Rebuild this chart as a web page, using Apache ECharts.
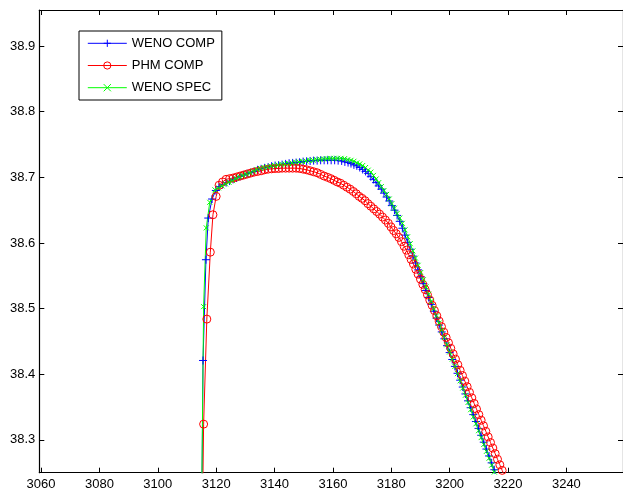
<!DOCTYPE html>
<html>
<head>
<meta charset="utf-8">
<script src="https://cdn.jsdelivr.net/npm/echarts@6/dist/echarts.min.js"></script>
<style>html,body{margin:0;padding:0;background:#fff;}#c{width:623px;height:494px;}</style>
</head>
<body>
<div id="c"></div>
<script>
// ---- data ----
const seriesNames = ['WENO COMP', 'PHM COMP', 'WENO SPEC'];
const xTickValues = [3060, 3080, 3100, 3120, 3140, 3160, 3180, 3200, 3220, 3240, 3260];
const xLabelValues = [3060, 3080, 3100, 3120, 3140, 3160, 3180, 3200, 3220, 3240];
const yTickValues = [38.3, 38.4, 38.5, 38.6, 38.7, 38.8, 38.9];

const wenoComp = [
[3115.0,38.15],[3115.5,38.421],[3116.5,38.5745],[3117.3,38.638],[3118.6,38.667],[3119.9,38.680],
[3121.0,38.686],[3122.2,38.689],[3123.4,38.692],[3124.6,38.6945],[3125.8,38.697],[3127.0,38.699],
[3128.2,38.7015],[3129.4,38.7035],[3130.6,38.7055],[3131.8,38.707],[3133.0,38.709],[3134.2,38.7115],
[3135.4,38.713],[3136.6,38.7145],[3137.8,38.7155],[3139.0,38.717],[3140.2,38.718],[3141.4,38.7185],
[3142.6,38.7195],[3143.8,38.7205],[3145.0,38.7215],[3146.2,38.722],[3147.4,38.7225],[3148.6,38.723],
[3149.8,38.724],[3151.0,38.7245],[3152.2,38.725],[3153.4,38.7255],[3154.6,38.7255],[3155.8,38.726],
[3157.0,38.726],[3158.2,38.726],[3159.4,38.726],[3160.6,38.726],[3161.8,38.7255],[3163.0,38.725],
[3164.1,38.7235],[3165.2,38.7225],[3166.2,38.721],[3167.2,38.719],[3168.2,38.7175],[3169.2,38.715],
[3170.2,38.712],[3171.2,38.709],[3172.1,38.706],[3173.0,38.701],[3173.9,38.697],[3174.8,38.692],
[3175.7,38.687],[3176.6,38.682],[3177.5,38.676],[3178.4,38.670],[3179.3,38.664],[3180.2,38.657],
[3181.1,38.650],[3182.0,38.642],[3182.9,38.633],[3183.8,38.6225],[3184.7,38.612],[3185.6,38.601],
[3186.5,38.5905],[3187.4,38.580],[3188.3,38.5695],[3189.2,38.559],[3190.1,38.5485],[3191.0,38.538],
[3191.9,38.5275],[3192.8,38.517],[3193.7,38.5065],[3194.6,38.496],[3195.5,38.4855],[3196.4,38.475],
[3197.3,38.4645],[3198.2,38.454],[3199.1,38.4435],[3200.0,38.433],[3200.9,38.4225],[3201.8,38.412],
[3202.7,38.4015],[3203.6,38.391],[3204.5,38.3805],[3205.4,38.370],[3206.3,38.3595],[3207.2,38.349],
[3208.1,38.3385],[3209.0,38.328],[3209.9,38.3175],[3210.8,38.307],[3211.7,38.2965],[3212.6,38.286],
[3213.5,38.2755],[3214.4,38.265],[3215.3,38.2545],[3216.2,38.244]
];

const phmComp = [
[3115.2,38.15],[3115.7,38.324],[3116.8,38.484],[3118.0,38.586],[3118.9,38.643],[3120.0,38.671],
[3121.0,38.688],[3122.2,38.693],[3123.4,38.697],[3124.6,38.698],[3125.8,38.699],[3127.0,38.7005],
[3128.2,38.702],[3129.4,38.7035],[3130.6,38.705],[3131.8,38.7065],[3133.0,38.708],[3134.2,38.709],
[3135.4,38.710],[3136.6,38.7115],[3137.8,38.7125],[3139.0,38.713],[3140.2,38.7135],[3141.4,38.7135],
[3142.6,38.714],[3143.8,38.714],[3145.0,38.714],[3146.2,38.714],[3147.4,38.714],[3148.6,38.7135],
[3149.8,38.7125],[3151.0,38.7115],[3152.2,38.710],[3153.4,38.7085],[3154.6,38.707],[3155.8,38.7045],
[3157.0,38.702],[3158.2,38.700],[3159.3,38.698],[3160.4,38.6955],[3161.5,38.693],[3162.6,38.691],
[3163.7,38.688],[3164.8,38.685],[3165.9,38.682],[3167.0,38.6785],[3168.0,38.675],[3169.0,38.671],
[3170.0,38.668],[3171.0,38.6645],[3172.0,38.660],[3173.0,38.656],[3174.0,38.652],[3175.0,38.648],
[3176.0,38.644],[3177.0,38.6395],[3178.0,38.635],[3179.0,38.630],[3179.9,38.6245],[3180.8,38.619],
[3181.7,38.614],[3182.6,38.6085],[3183.5,38.602],[3184.4,38.595],[3185.2,38.589],[3186.0,38.582],
[3186.8,38.575],[3187.6,38.568],[3188.4,38.560],[3189.2,38.5525],[3190.0,38.545],[3190.8,38.537],
[3191.6,38.529],[3192.4,38.521],[3193.2,38.513],[3194.0,38.505],[3194.8,38.497],[3195.6,38.489],
[3196.4,38.481],[3197.2,38.4725],[3198.0,38.464],[3198.8,38.456],[3199.6,38.448],[3200.4,38.4395],
[3201.2,38.431],[3202.0,38.423],[3202.8,38.4145],[3203.6,38.406],[3204.4,38.398],[3205.2,38.3895],
[3206.0,38.381],[3206.8,38.3725],[3207.6,38.364],[3208.4,38.3555],[3209.2,38.347],[3210.0,38.3385],
[3210.8,38.330],[3211.6,38.3215],[3212.4,38.313],[3213.2,38.3045],[3214.0,38.296],[3214.8,38.2875],
[3215.6,38.279],[3216.4,38.2705],[3217.2,38.262],[3218.0,38.2535],[3218.8,38.245]
];

const wenoSpec = [
[3114.9,38.15],[3115.7,38.503],[3116.6,38.623],[3117.8,38.662],[3119.6,38.681],
[3120.8,38.684],[3122.0,38.687],[3123.2,38.690],[3124.4,38.6925],[3125.6,38.695],[3126.8,38.6985],
[3128.0,38.701],[3129.2,38.703],[3130.4,38.705],[3131.6,38.707],[3132.8,38.7095],[3134.0,38.712],
[3135.2,38.7135],[3136.4,38.715],[3137.6,38.716],[3138.8,38.717],[3140.0,38.718],[3141.2,38.719],
[3142.4,38.720],[3143.6,38.7205],[3144.8,38.721],[3146.0,38.722],[3147.2,38.723],[3148.4,38.7235],
[3149.6,38.724],[3150.8,38.725],[3152.0,38.726],[3153.2,38.726],[3154.4,38.727],[3155.6,38.7275],
[3156.8,38.728],[3158.0,38.7285],[3159.2,38.729],[3160.4,38.729],[3161.6,38.729],[3162.8,38.729],
[3164.0,38.7285],[3165.1,38.727],[3166.2,38.726],[3167.2,38.7245],[3168.2,38.722],[3169.2,38.7205],
[3170.2,38.718],[3171.2,38.715],[3172.1,38.711],[3173.0,38.708],[3173.9,38.703],[3174.8,38.6975],
[3175.7,38.692],[3176.6,38.686],[3177.5,38.680],[3178.4,38.674],[3179.3,38.667],[3180.2,38.660],
[3181.1,38.653],[3182.0,38.645],[3182.9,38.638],[3183.8,38.630],[3184.7,38.620],[3185.6,38.6095],
[3186.5,38.599],[3187.4,38.588],[3188.3,38.577],[3189.2,38.566],[3190.1,38.555],[3191.0,38.544],
[3191.9,38.533],[3192.8,38.522],[3193.7,38.511],[3194.6,38.500],[3195.5,38.489],[3196.4,38.478],
[3197.3,38.467],[3198.2,38.456],[3199.1,38.445],[3200.0,38.434],[3200.9,38.423],[3201.8,38.412],
[3202.7,38.401],[3203.6,38.390],[3204.5,38.379],[3205.4,38.368],[3206.3,38.357],[3207.2,38.346],
[3208.1,38.335],[3209.0,38.3245],[3209.9,38.314],[3210.8,38.3035],[3211.7,38.293],[3212.6,38.2825],
[3213.5,38.272],[3214.4,38.2615],[3215.3,38.251],[3216.2,38.2405]
];

// ---- chart ----
const FONT = 'Liberation Sans, Arial, Helvetica, sans-serif';
const PLUS = 'path://M0,5L10,5M5,0L5,10';
const CROSS = 'path://M0,0L10,10M10,0L0,10';
const chart = echarts.init(document.getElementById('c'), null, {renderer: 'canvas'});

function xAx(pos, labels) {
  return {
    type: 'value', position: pos, min: 3059.4, max: 3259.4,
    axisLine: {show: true, onZero: false, lineStyle: {color: '#000', width: 1.2}},
    axisTick: {show: true, inside: true, length: 5, customValues: xTickValues, lineStyle: {color: '#000', width: 1}},
    axisLabel: labels ? {show: true, customValues: xLabelValues, margin: 5, color: '#000', fontSize: 13, fontFamily: FONT,
      formatter: v => String(Math.round(v))} : {show: false},
    splitLine: {show: false}
  };
}
function yAx(pos, labels) {
  return {
    type: 'value', position: pos, min: 38.25, max: 38.955,
    axisLine: {show: true, onZero: false, lineStyle: {color: '#000', width: 1.2}},
    axisTick: {show: true, inside: true, length: 5, customValues: yTickValues, lineStyle: {color: '#000', width: 1}},
    axisLabel: labels ? {show: true, customValues: yTickValues, margin: 4, color: '#000', fontSize: 13, fontFamily: FONT,
      formatter: v => v.toFixed(1)} : {show: false},
    splitLine: {show: false}
  };
}
function mk(name, data, color, symbol, size) {
  return {
    name: name, type: 'line', data: data, xAxisIndex: 0, yAxisIndex: 0,
    symbol: symbol, symbolSize: size, showSymbol: true, clip: true,
    lineStyle: {color: color, width: 1},
    itemStyle: {color: 'rgba(0,0,0,0)', borderColor: color, borderWidth: 1},
    emphasis: {disabled: true}, silent: true, animation: false
  };
}

chart.setOption({
  animation: false,
  backgroundColor: '#fff',
  grid: {left: 39.3, top: 10, width: 587, height: 462.7, containLabel: false},
  xAxis: [xAx('bottom', true), xAx('top', false)],
  yAxis: [yAx('left', true), yAx('right', false)],
  legend: {
    orient: 'vertical', left: 79, top: 31, padding: [5.8, 7, 5.8, 8.3],
    itemWidth: 39, itemHeight: 9, itemGap: 9.2,
    borderColor: '#000', borderWidth: 1, backgroundColor: '#fff',
    lineStyle: {width: 1},
    itemStyle: {borderWidth: 1},
    textStyle: {fontSize: 13, color: '#000', fontFamily: FONT},
    data: seriesNames, selectedMode: false
  },
  series: [
    mk(seriesNames[0], wenoComp, '#0000ff', PLUS, 8),
    mk(seriesNames[1], phmComp, '#ff0000', 'circle', 8),
    mk(seriesNames[2], wenoSpec, '#00ff00', CROSS, 5)
  ]
});
</script>
</body>
</html>
